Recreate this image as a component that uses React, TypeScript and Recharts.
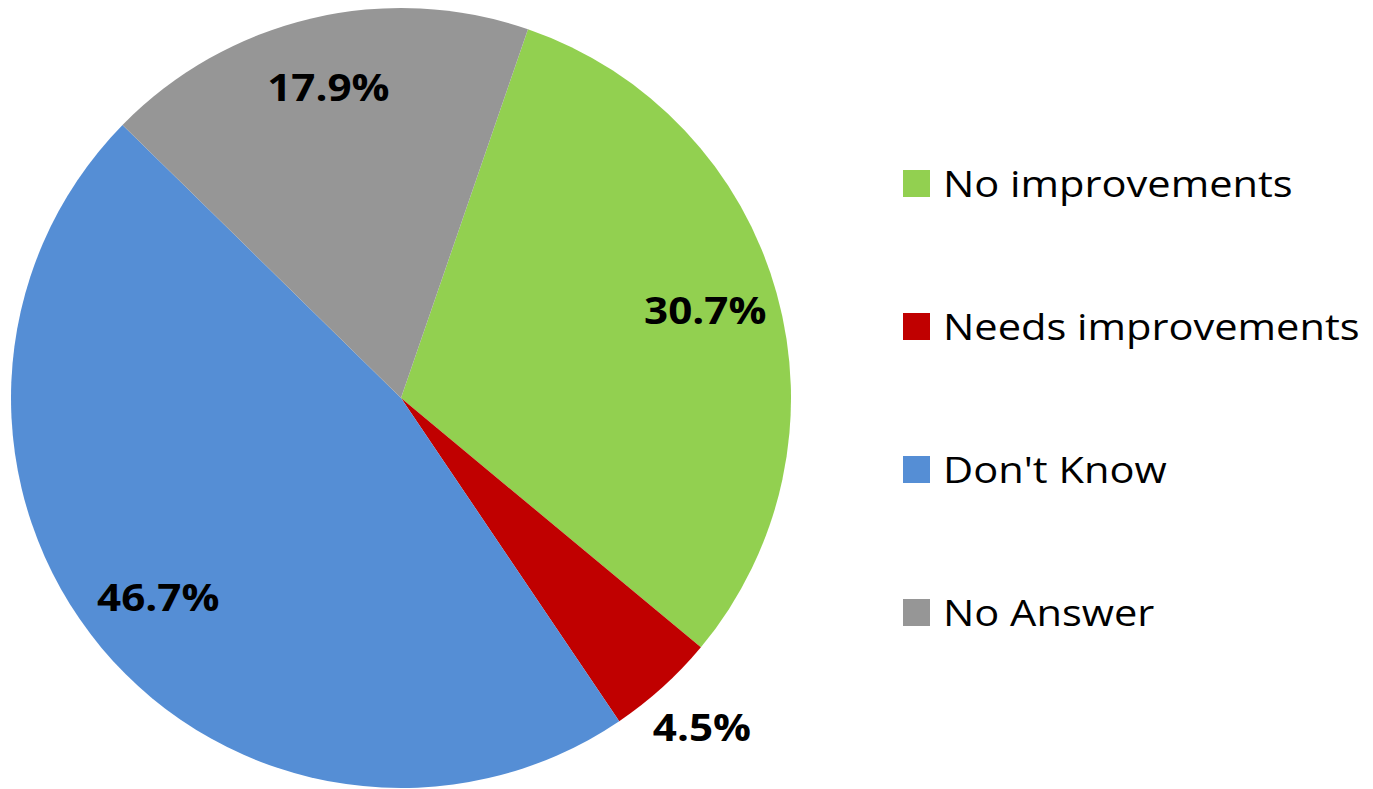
import { PieChart, Pie, Cell, Legend } from "recharts";

const categories = ["No improvements", "Needs improvements", "Don't Know", "No Answer"];
const shares = [30.7, 4.5, 46.7, 17.9];
const colors = ["#92D050", "#C00000", "#558ED5", "#969696"];

const data = categories.map((name, i) => ({ name, value: shares[i] }));

const RAD = Math.PI / 180;
const FONT = "'Open Sans', 'Noto Sans', sans-serif";

// slice labels: inside the slice, small slices pushed outside
function renderLabel(props: any) {
  const { cx, cy, midAngle, outerRadius, value } = props;
  const r = value < 10 ? outerRadius * 1.15 : outerRadius * 0.81;
  const x = cx + r * Math.cos(-midAngle * RAD);
  const y = cy + r * Math.sin(-midAngle * RAD) - 4;
  return (
    <text
      transform={`translate(${x},${y}) scale(1.11,1)`}
      x={0}
      y={0}
      textAnchor="middle"
      dominantBaseline="central"
      fill="#000"
      fontFamily={FONT}
      fontWeight={700}
      fontSize={38}
    >
      {value.toFixed(1)}%
    </text>
  );
}

function LegendList() {
  return (
    <div style={{ fontFamily: FONT }}>
      {data.map((d, i) => (
        <div key={d.name} style={{ display: "flex", alignItems: "center", height: 143 }}>
          <div style={{ width: 27, height: 27, background: colors[i], marginRight: 13, flexShrink: 0 }} />
          <span
            style={{
              fontSize: 36,
              color: "#000",
              whiteSpace: "nowrap",
              display: "inline-block",
              transform: "scaleX(1.155)",
              transformOrigin: "left center",
            }}
          >
            {d.name}
          </span>
        </div>
      ))}
    </div>
  );
}

export default function App() {
  return (
    <div style={{ position: "absolute", left: 0, top: 0, width: 1373, height: 789, background: "#fff" }}>
      <PieChart width={1373} height={789} margin={{ top: 0, right: 0, bottom: 0, left: 0 }}>
        <Pie
          data={data}
          dataKey="value"
          nameKey="name"
          cx={401}
          cy={398}
          outerRadius={390}
          startAngle={71}
          endAngle={-289}
          stroke="none"
          label={renderLabel}
          labelLine={false}
          isAnimationActive={false}
        >
          {data.map((d, i) => (
            <Cell key={d.name} fill={colors[i]} />
          ))}
        </Pie>
        <Legend
          layout="vertical"
          align="right"
          verticalAlign="top"
          wrapperStyle={{ left: 903, top: 112, width: 470 }}
          content={() => <LegendList />}
        />
      </PieChart>
    </div>
  );
}
